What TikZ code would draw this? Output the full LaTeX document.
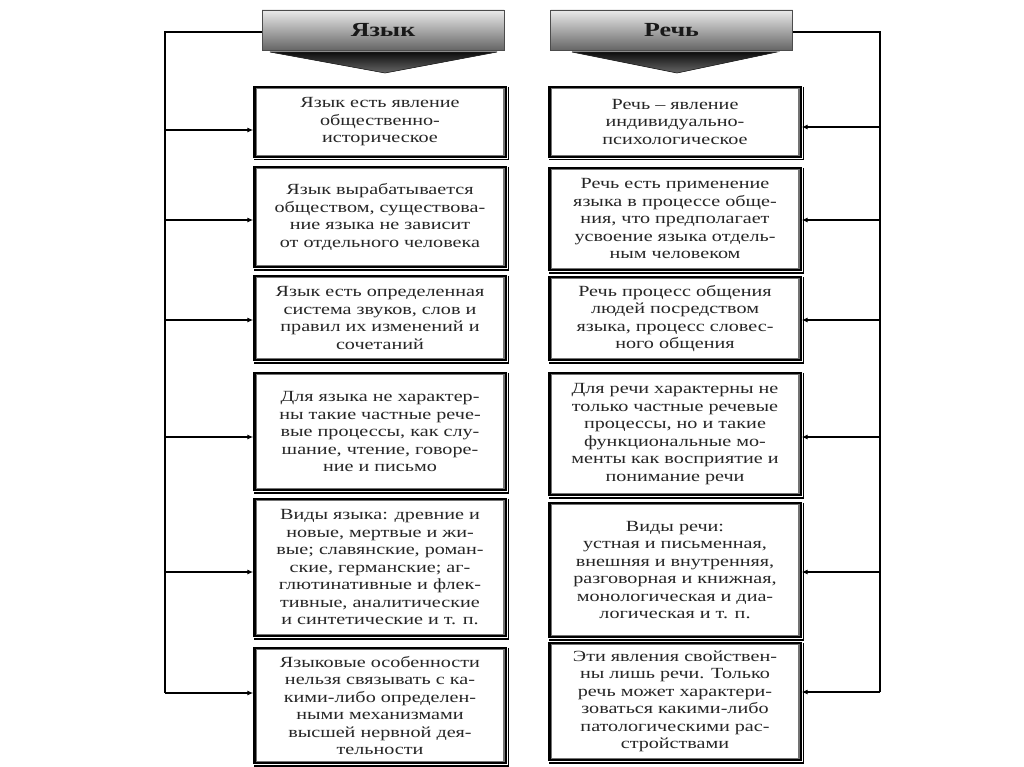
\documentclass[tikz,border=0pt]{standalone}
\usepackage{fontspec}
\setmainfont[FakeStretch=1.3]{Liberation Serif}
\usetikzlibrary{arrows.meta}
\definecolor{txt}{HTML}{262626}
\tikzset{
  x=1pt,y=-1pt,
  infobox/.style={draw=black, line width=2.4pt, fill=white, minimum width=251pt,
    align=center, inner sep=0pt, text=txt, font=\fontsize{15.5}{17.5}\selectfont},
  header/.style={draw=black!70, line width=0.8pt, top color=black!8, bottom color=black!60,
    minimum width=242pt, minimum height=40pt, inner sep=0pt,
    font=\bfseries\fontsize{20}{22}\selectfont, text=black!90},
  chevron/.style={top color=black!95, bottom color=black!60, draw=black!85, line width=0.6pt},
  shadowline/.style={black, line width=1.4pt},
  conn/.style={line width=1.6pt, black},
  arr/.style={conn, -{Latex[length=6pt,width=5pt]}},
}
\newcommand{\innerframe}[1]{\draw[black!55, line width=1.2pt]
  ([shift={(2.8pt,2.8pt)}]#1.south west) rectangle ([shift={(-2.8pt,-2.8pt)}]#1.north east);
  \draw[shadowline] ([shift={(1.6pt,-1pt)}]#1.north east) -- ([shift={(1.6pt,-1.6pt)}]#1.south east) -- ([shift={(1pt,-1.6pt)}]#1.south west);}
\begin{document}
\begin{tikzpicture}
\useasboundingbox[fill=white] (0,0) rectangle (1024,767);

% headers
\node[header] (hl) at (383,30) {Язык};
\node[header] (hr) at (671.5,30) {Речь};
\fill[chevron] (270,52) -- (497,52) -- (385,73) -- cycle;
\fill[chevron] (572,52) -- (777,52) -- (677,73) -- cycle;

% left boxes
\node[infobox, minimum height=70pt] (L1) at (380,122) {Язык есть явление\\общественно-\\историческое};
\node[infobox, minimum height=100pt] (L2) at (380,217) {Язык вырабатывается\\обществом, существова-\\ние языка не зависит\\от отдельного человека};
\node[infobox, minimum height=84pt] (L3) at (380,318) {Язык есть определенная\\система звуков, слов и\\правил их изменений и\\сочетаний};
\node[infobox, minimum height=117pt] (L4) at (380,431.5) {Для языка не характер-\\ны такие частные рече-\\вые процессы, как слу-\\шание, чтение, говоре-\\ние и письмо};
\node[infobox, minimum height=137pt] (L5) at (380,567.5) {Виды языка: древние и\\новые, мертвые и жи-\\вые; славянские, роман-\\ские, германские; аг-\\глютинативные и флек-\\тивные, аналитические\\и синтетические и т. п.};
\node[infobox, minimum height=115pt] (L6) at (380,705.5) {Языковые особенности\\нельзя связывать с ка-\\кими-либо определен-\\ными механизмами\\высшей нервной дея-\\тельности};

% right boxes
\node[infobox, minimum height=70pt] (R1) at (675,122) {Речь – явление\\индивидуально-\\психологическое};
\node[infobox, minimum height=102pt] (R2) at (675,219) {Речь есть применение\\языка в процессе обще-\\ния, что предполагает\\усвоение языка отдель-\\ным человеком};
\node[infobox, minimum height=83pt] (R3) at (675,318.5) {Речь процесс общения\\людей посредством\\языка, процесс словес-\\ного общения};
\node[infobox, minimum height=122pt] (R4) at (675,434) {Для речи характерны не\\только частные речевые\\процессы, но и такие\\функциональные мо-\\менты как восприятие и\\понимание речи};
\node[infobox, minimum height=134pt] (R5) at (675,570) {Виды речи:\\устная и письменная,\\внешняя и внутренняя,\\разговорная и книжная,\\монологическая и диа-\\логическая и т. п.};
\node[infobox, minimum height=117pt] (R6) at (675,701.5) {Эти явления свойствен-\\ны лишь речи. Только\\речь может характери-\\зоваться какими-либо\\патологическими рас-\\стройствами};

\foreach \n in {L1,L2,L3,L4,L5,L6,R1,R2,R3,R4,R5,R6}{\innerframe{\n}}

% bus coordinates
\coordinate (bl1) at (165,130);
\coordinate (bl2) at (165,220);
\coordinate (bl3) at (165,320);
\coordinate (bl4) at (165,437);
\coordinate (bl5) at (165,572);
\coordinate (bl6) at (165,693);
\coordinate (br1) at (880,127);
\coordinate (br2) at (880,220);
\coordinate (br3) at (880,320);
\coordinate (br4) at (880,437);
\coordinate (br5) at (880,572);
\coordinate (br6) at (880,692);

% left bus
\draw[conn] ([yshift=-2pt]hl.west) -| (bl6);
\draw[arr] (bl6) -- (bl6 -| L6.west);
\foreach \i in {1,...,5}{\draw[arr] (bl\i) -- (bl\i -| L\i.west);}
% right bus
\draw[conn] ([yshift=-2pt]hr.east) -| (br6);
\draw[arr] (br6) -- (br6 -| R6.east);
\foreach \i in {1,...,5}{\draw[arr] (br\i) -- (br\i -| R\i.east);}
\end{tikzpicture}
\end{document}
